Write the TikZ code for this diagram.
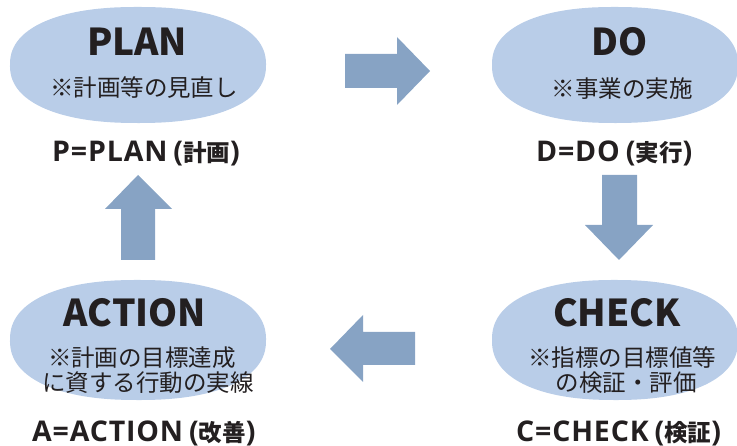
\documentclass[tikz,border=0pt]{standalone}
\usepackage{fontspec}
\setmainfont{Noto Sans CJK JP}
\newfontfamily\latinlab{Open Sans}[LetterSpace=3]
\usetikzlibrary{shapes.geometric}
\definecolor{blobfill}{HTML}{B9CDE8}
\definecolor{arrowfill}{HTML}{87A3C4}
\definecolor{ink}{HTML}{231F20}
% superellipse fill: center x, center y, rx, ry
\newcommand\pdcablob[4]{%
  \fill[blobfill] plot[domain=0.9:359.1, samples=200, smooth cycle]
    ({#1 + #3*sign(cos(\x))*abs(cos(\x))^(0.87)}, {#2 + #4*sign(sin(\x))*abs(sin(\x))^(0.87)});}
\newcommand\pdcalat{\latinlab\bfseries\fontsize{28.5}{30}\selectfont}
\newcommand\pdcalab[2]{{\pdcalat #1\hspace{6pt}(}{\bfseries\fontsize{23.5}{26}\selectfont #2}{\pdcalat )}}
\begin{document}
\begin{tikzpicture}[x=1pt,y=-1pt,
  blob/.style={ellipse, draw=none, inner sep=0pt, minimum width=257pt, minimum height=116pt},
  titletext/.style={text=ink, font=\bfseries\fontsize{37}{40}\selectfont, inner sep=0pt},
  subtext/.style={text=ink, font=\fontsize{23.5}{25}\selectfont, inner sep=0pt},
  pdcalabel/.style={text=ink, inner sep=0pt, anchor=base west},
  blockarrow/.style={fill=arrowfill, draw=none}]
\useasboundingbox (0,0) rectangle (737,446);

% PLAN
\pdcablob{138}{65}{128}{58}
\node[blob] (planE) at (138,65) {};
\node[titletext] (planT) at (137,42) {PLAN};
\node[subtext] (planS) at (144,88) {※計画等の見直し};
\node[pdcalabel] (planL) at (52,162) {\pdcalab{P=PLAN}{計画}};

% DO
\pdcablob{615}{65}{123}{58}
\node[blob, minimum width=246pt] (doE) at (615,65) {};
\node[titletext] (doT) at (620,42) {DO};
\node[subtext] (doS) at (622,89) {※事業の実施};
\node[pdcalabel] (doL) at (536,162) {\pdcalab{D=DO}{実行}};

% ACTION
\pdcablob{138}{340}{128}{60}
\node[blob, minimum height=120pt] (actE) at (138,340) {};
\node[titletext] (actT) at (135,313) {ACTION};
\node[subtext] (actS1) at (142,358) {※計画の目標達成};
\node[subtext] (actS2) at (148,383) {に資する行動の実線};
\node[pdcalabel] (actL) at (32,442) {\pdcalab{A=ACTION}{改善}};

% CHECK
\pdcablob{615}{340}{123}{60}
\node[blob, minimum width=246pt, minimum height=120pt] (chkE) at (615,340) {};
\node[titletext] (chkT) at (617,313) {CHECK};
\node[subtext] (chkS1) at (622,358) {※指標の目標値等};
\node[subtext] (chkS2) at (626,383) {の検証・評価};
\node[pdcalabel] (chkL) at (516,442) {\pdcalab{C=CHECK}{検証}};

% arrows
\fill[blockarrow] (345,54) -- (397,54) -- (397,37) -- (430,71) -- (397,105) -- (397,88) -- (345,88) -- cycle;
\fill[blockarrow] (602,175) -- (637,175) -- (637,225) -- (653,225) -- (619,260) -- (585,225) -- (602,225) -- cycle;
\fill[blockarrow] (415,332) -- (363,332) -- (363,315) -- (330,349) -- (363,382) -- (363,365) -- (415,365) -- cycle;
\fill[blockarrow] (121,260) -- (121,209) -- (105,209) -- (138,175) -- (172,209) -- (155,209) -- (155,260) -- cycle;
\end{tikzpicture}
\end{document}
